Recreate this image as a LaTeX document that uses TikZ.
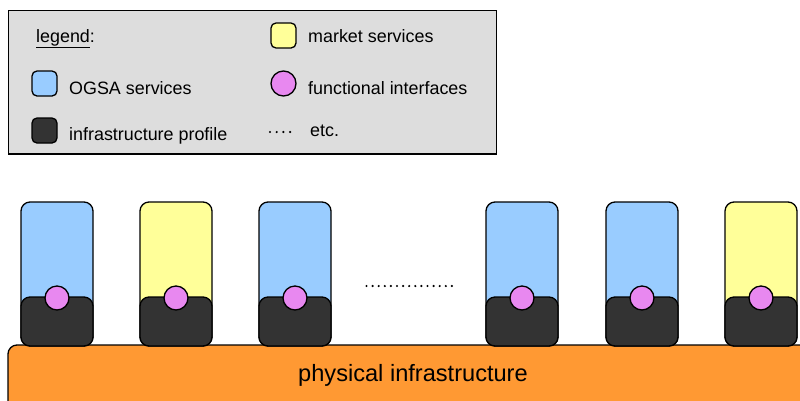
\documentclass[tikz,border=0pt]{standalone}
\usepackage{fontspec}
\setmainfont{Liberation Sans}
\definecolor{ogsa}{HTML}{99CCFF}
\definecolor{market}{HTML}{FFFF99}
\definecolor{iface}{HTML}{E888F0}
\definecolor{infra}{HTML}{333333}
\definecolor{phys}{HTML}{FF9933}
\definecolor{legbg}{HTML}{DDDDDD}
\tikzset{
  box/.style={draw=black, line width=1.3pt, rounded corners=9pt},
  ifc/.style={circle, draw=black, line width=1.3pt, fill=iface, minimum size=24pt, inner sep=0pt},
  ltxt/.style={anchor=base west, inner sep=0pt, font=\fontsize{17.9}{20}\selectfont},
  dotmark/.style={circle, fill=black, minimum size=2.4pt, inner sep=0pt},
}
\begin{document}
\begin{tikzpicture}[x=1pt,y=-1pt]
\useasboundingbox (0,0) rectangle (800,400);
% legend
\draw[line width=1.1pt, fill=legbg] (8.5,10.5) rectangle (496.5,154);
\node[ltxt] (lgd) at (36,42) {\underline{legend}:};
\draw[box, rounded corners=5pt, fill=market] (271,23) rectangle (296,48);
\node[ltxt] (lmk) at (308,42) {market services};
\draw[box, rounded corners=5pt, fill=ogsa] (32,71) rectangle (57,96);
\node[ltxt] (log) at (69,94) {OGSA services};
\node[ifc, minimum size=25pt] (lif) at (283.5,83.5) {};
\node[ltxt] (lfi) at (308,94) {functional interfaces};
\draw[box, rounded corners=5pt, fill=infra] (32,118) rectangle (57,143);
\node[ltxt] (lip) at (69,140) {infrastructure profile};
\foreach \i in {0,...,3} \node[dotmark] (ld\i) at (270+6.7*\i,132) {};
\node[ltxt] (letc) at (310,136) {etc.};
% physical infrastructure
\draw[box, fill=phys] (8,420) -- (8,345) -- (830,345) -- (830,420);
\node[anchor=base, inner sep=0pt, font=\fontsize{23.6}{26}\selectfont] (phys) at (413,381) {physical infrastructure};
% columns
\foreach \x/\c [count=\k] in {21/ogsa,140/market,259/ogsa,486/ogsa,606/ogsa,725/market}{
  \draw[box, fill=\c] (\x,202) rectangle (\x+72,346);
  \draw[box, fill=infra] (\x,297) rectangle (\x+72,346);
  \node[ifc] (if\k) at (\x+36,298) {};
}
\foreach \i in {0,...,14} \node[dotmark] (md\i) at (366.5+6.1*\i,286) {};
\end{tikzpicture}
\end{document}
